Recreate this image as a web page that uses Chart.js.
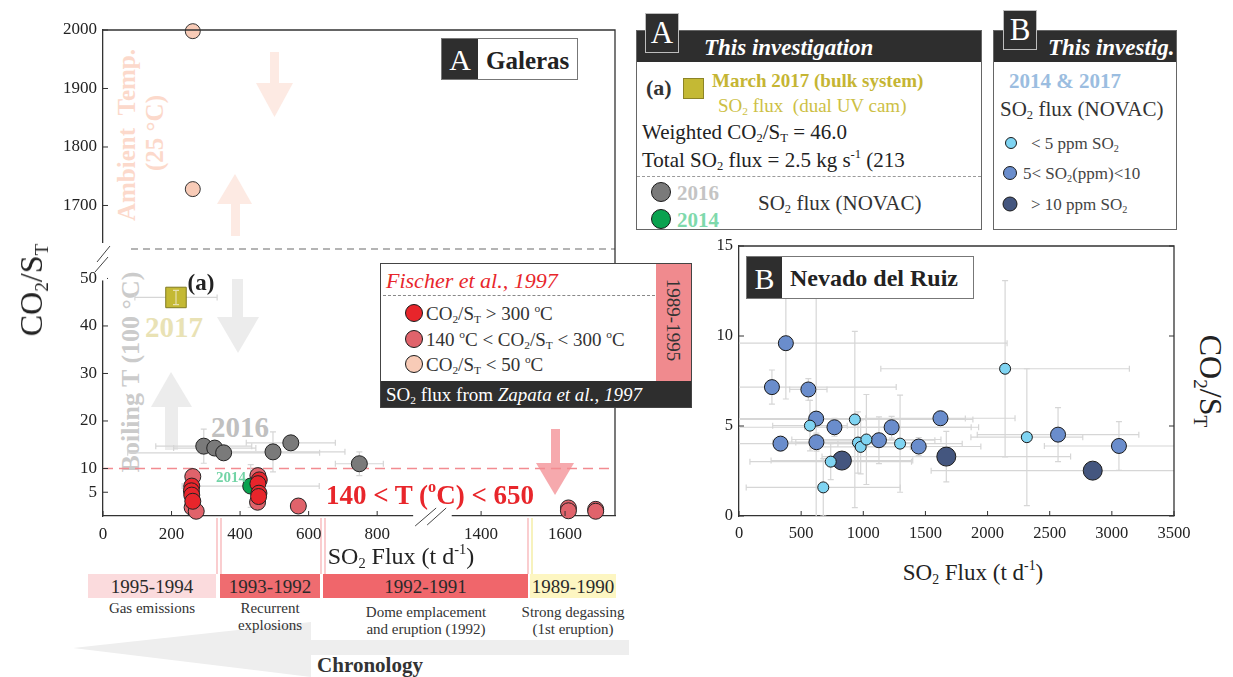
<!DOCTYPE html>
<html>
<head>
<meta charset="utf-8">
<script src="https://cdn.jsdelivr.net/npm/chart.js@4.4.1/dist/chart.umd.min.js"></script>
<style>
  body { margin: 0; background: #fff; }
  #page { position: relative; width: 1233px; height: 677px; overflow: hidden;
          font-family: 'Liberation Serif', 'Times New Roman', serif; color: #222; }
  canvas { position: absolute; }
  .t { position: absolute; white-space: nowrap; line-height: 1; transform: translateY(-50%); }
  .c { position: absolute; white-space: nowrap; line-height: 1; transform: translate(-50%, -50%); }
  .rl { position: absolute; white-space: nowrap; line-height: 1; transform: translate(-50%, -50%) rotate(-90deg); }
  .rr { position: absolute; white-space: nowrap; line-height: 1; transform: translate(-50%, -50%) rotate(90deg); }
  sub { font-size: 0.6em; vertical-align: -0.3em; line-height: 0; }
  sup { font-size: 0.6em; vertical-align: 0.7em; line-height: 0; }
  .dot { position: absolute; border-radius: 50%; border: 1px solid #1a1a1a; transform: translate(-50%, -50%); }
  .bar { position: absolute; top: 574px; height: 24px; line-height: 25px; text-align: center;
         font-size: 19px; color: #2a2a2a; }
  .cap { position: absolute; text-align: center; font-size: 15px; line-height: 17px;
         transform: translateX(-50%); white-space: nowrap; color: #333; }
  .box { position: absolute; background: #fff; border: 1px solid #555; }
  .tab { position: absolute; background: #2e2e2e; border: 1.5px solid #bdbdbd; color: #fff;
         font-size: 31px; text-align: center; line-height: 38px; }
</style>
</head>
<body>
<div id="page">

  <!-- faint background arrows and guides -->
  <svg style="position:absolute;left:0;top:0;z-index:0" width="1233" height="677">
    <g fill="#fdeae3">
      <rect x="270" y="52" width="9" height="32"/>
      <polygon points="256,83 293,83 274.5,117"/>
      <polygon points="235,174 217,204 252,204"/>
      <rect x="231" y="203" width="9" height="33"/>
    </g>
    <g fill="#ececec">
      <rect x="232" y="279" width="11" height="39"/>
      <polygon points="217,317 259,317 238,353"/>
      <polygon points="171,372 151,407 192,407"/>
      <rect x="165" y="406" width="13" height="44"/>
    </g>
    <g fill="#f6a9ad">
      <rect x="551" y="429" width="9" height="35"/>
      <polygon points="536,463 574,463 555,495"/>
    </g>
    <g stroke-width="1.3">
      <line x1="217" y1="518" x2="217" y2="574" stroke="#f7b3b6"/>
      <line x1="221" y1="518" x2="221" y2="574" stroke="#f7b3b6"/>
      <line x1="321" y1="518" x2="321" y2="574" stroke="#f7b3b6"/>
      <line x1="325" y1="518" x2="325" y2="574" stroke="#f7b3b6"/>
      <line x1="528" y1="518" x2="528" y2="574" stroke="#f7b3b6"/>
      <line x1="532" y1="518" x2="532" y2="574" stroke="#f3eb9a"/>
    </g>
    <polygon fill="#eeeeee" points="73,648 311,622 311,640 629,640 629,655 311,655 311,677"/>
  </svg>

  <div class="rl" style="left:126px;top:135px;font-size:25px;font-weight:bold;color:#fcd9cb">Ambient&nbsp;&nbsp;Temp.</div>
  <div class="rl" style="left:154px;top:133px;font-size:25px;font-weight:bold;color:#fcd9cb">(25 °C)</div>
  <div class="rl" style="left:131px;top:372px;font-size:26px;font-weight:bold;color:#cbcbcb">Boiling T (100 °C)</div>
  <div class="c" style="left:240px;top:427px;font-size:29px;font-weight:bold;color:#c0c0c0">2016</div>
  <div class="c" style="left:174px;top:327px;font-size:29px;font-weight:bold;color:#e9e2b5">2017</div>

  <canvas id="galeras" width="640" height="560" style="left:0;top:0;width:640px;height:560px;z-index:1"></canvas>
  <canvas id="ruiz" width="543" height="330" style="left:690px;top:230px;width:543px;height:330px;z-index:1"></canvas>

  <!-- Galeras panel labels -->
  <div class="c" style="left:201px;top:282px;font-size:23px;font-weight:bold;z-index:2">(a)</div>
  <div class="c" style="left:231px;top:477px;font-size:15px;font-weight:bold;color:#72d4a6;z-index:2">2014</div>
  <div class="c" style="left:430px;top:495px;font-size:27px;font-weight:bold;color:#e8262b;z-index:2">140 &lt; T (<sup>o</sup>C) &lt; 650</div>

  <div class="box" style="left:441px;top:38px;width:135px;height:40px;z-index:2;border-color:#777">
    <div style="position:absolute;left:0;top:0;width:36px;height:40px;background:#2e2e2e;color:#fff;font-size:30px;text-align:center;line-height:42px">A</div>
    <div class="t" style="left:44px;top:21px;font-size:25px;font-weight:bold">Galeras</div>
  </div>

  <div class="box" style="left:380px;top:263px;width:310px;height:143px;z-index:2;border-color:#444">
    <div class="t" style="left:5px;top:17px;font-size:22px;font-style:italic;color:#e8262b">Fischer et al., 1997</div>
    <div style="position:absolute;left:2px;top:31px;width:272px;border-top:1.3px dashed #888"></div>
    <div class="dot" style="left:33px;top:49px;width:16px;height:16px;background:#e8252b"></div>
    <div class="t" style="left:45px;top:49px;font-size:19px;color:#333">CO<sub>2</sub>/S<sub>T</sub> &gt; 300 <sup>o</sup>C</div>
    <div class="dot" style="left:33px;top:75px;width:16px;height:16px;background:#e0636b"></div>
    <div class="t" style="left:45px;top:75px;font-size:19px;color:#333">140 <sup>o</sup>C &lt; CO<sub>2</sub>/S<sub>T</sub> &lt; 300 <sup>o</sup>C</div>
    <div class="dot" style="left:33px;top:100px;width:16px;height:16px;background:#f8cbb7"></div>
    <div class="t" style="left:45px;top:100px;font-size:19px;color:#333">CO<sub>2</sub>/S<sub>T</sub> &lt; 50 <sup>o</sup>C</div>
    <div style="position:absolute;left:275px;top:0;width:35px;height:117px;background:#f08a8e">
      <div class="rr" style="left:17px;top:56px;font-size:19px;color:#333">1989-1995</div>
    </div>
    <div style="position:absolute;left:0;top:117px;width:310px;height:26px;background:#2e2e2e">
      <div class="t" style="left:5px;top:13px;font-size:19px;color:#fff">SO<sub>2</sub> flux from <i>Zapata et al., 1997</i></div>
    </div>
  </div>

  <div class="rl" style="left:31px;top:290px;font-size:32px;z-index:2">CO<sub>2</sub>/S<sub>T</sub></div>
  <div class="c" style="left:401px;top:556px;font-size:24px;z-index:2">SO<sub>2</sub> Flux (t d<sup>-1</sup>)</div>

  <!-- timeline -->
  <div class="bar" style="left:88px;width:128px;background:#fbdbdd">1995-1994</div>
  <div class="bar" style="left:220px;width:100px;background:#ef6c70">1993-1992</div>
  <div class="bar" style="left:323px;width:205px;background:#f0666b">1992-1991</div>
  <div class="bar" style="left:530px;width:86px;background:#fdf6c2">1989-1990</div>
  <div class="cap" style="left:152px;top:600px">Gas emissions</div>
  <div class="cap" style="left:270px;top:600px">Recurrent<br>explosions</div>
  <div class="cap" style="left:426px;top:604px">Dome emplacement<br>and eruption (1992)</div>
  <div class="cap" style="left:573px;top:604px">Strong degassing<br>(1st eruption)</div>
  <div class="c" style="left:370px;top:665px;font-size:21px;font-weight:bold;color:#333">Chronology</div>

  <!-- legend A -->
  <div class="box" style="left:636px;top:30px;width:344px;height:198px;border-color:#666">
    <div style="position:absolute;left:0;top:0;width:344px;height:31px;background:#2e2e2e"></div>
    <div class="t" style="left:67px;top:16px;font-size:23px;font-weight:bold;font-style:italic;color:#fff">This investigation</div>
    <div class="t" style="left:9px;top:57px;font-size:22px;font-weight:bold;color:#333">(a)</div>
    <div style="position:absolute;left:46px;top:47px;width:19px;height:19px;background:#c4b934;border:1px solid #8c8426"></div>
    <div class="t" style="left:75px;top:49px;font-size:19px;font-weight:bold;color:#c5b533">March 2017 (bulk system)</div>
    <div class="t" style="left:81px;top:74px;font-size:19px;color:#cdbf45">SO<sub>2</sub> flux&nbsp; (dual UV cam)</div>
    <div class="t" style="left:5px;top:101px;font-size:21px">Weighted CO<sub>2</sub>/S<sub>T</sub> = 46.0</div>
    <div class="t" style="left:5px;top:129px;font-size:21px">Total SO<sub>2</sub> flux = 2.5 kg s<sup>-1</sup> (213</div>
    <div style="position:absolute;left:0;top:145px;width:344px;border-top:1.3px dashed #9a9a9a"></div>
    <div class="dot" style="left:24px;top:161px;width:18px;height:18px;background:#7a7a7a"></div>
    <div class="t" style="left:40px;top:162px;font-size:21px;font-weight:bold;color:#c4c4c4">2016</div>
    <div class="dot" style="left:24px;top:188px;width:18px;height:18px;background:#0aa24f"></div>
    <div class="t" style="left:40px;top:189px;font-size:21px;font-weight:bold;color:#7fd9ac">2014</div>
    <div class="t" style="left:121px;top:172px;font-size:21px;color:#333">SO<sub>2</sub> flux (NOVAC)</div>
  </div>
  <div class="tab" style="left:645px;top:13px;width:32px;height:38px">A</div>

  <!-- legend B -->
  <div class="box" style="left:993px;top:30px;width:182px;height:198px;border-color:#666">
    <div style="position:absolute;left:0;top:0;width:182px;height:31px;background:#2e2e2e"></div>
    <div class="t" style="left:54px;top:16px;font-size:23px;font-weight:bold;font-style:italic;color:#fff">This investig.</div>
    <div class="t" style="left:15px;top:50px;font-size:21px;font-weight:bold;color:#9bbde0">2014 &amp; 2017</div>
    <div class="t" style="left:6px;top:78px;font-size:21px;color:#333">SO<sub>2</sub> flux (NOVAC)</div>
    <div class="dot" style="left:17px;top:112px;width:10px;height:10px;background:#7fd4f2"></div>
    <div class="t" style="left:37px;top:112px;font-size:17px;color:#444">&lt; 5 ppm SO<sub>2</sub></div>
    <div class="dot" style="left:16px;top:142px;width:12px;height:12px;background:#6a8dcc"></div>
    <div class="t" style="left:29px;top:142px;font-size:17px;color:#444">5&lt; SO<sub>2</sub>(ppm)&lt;10</div>
    <div class="dot" style="left:16px;top:173px;width:13px;height:13px;background:#44567f"></div>
    <div class="t" style="left:37px;top:173px;font-size:17px;color:#444">&gt; 10 ppm SO<sub>2</sub></div>
  </div>
  <div class="tab" style="left:1003px;top:10px;width:32px;height:38px">B</div>

  <!-- Nevado del Ruiz panel labels -->
  <div class="box" style="left:746px;top:256px;width:226px;height:41px;z-index:2;border-color:#777">
    <div style="position:absolute;left:0;top:0;width:35px;height:41px;background:#2e2e2e;color:#fff;font-size:30px;text-align:center;line-height:43px">B</div>
    <div class="t" style="left:43px;top:21px;font-size:24px;font-weight:bold">Nevado del Ruiz</div>
  </div>
  <div class="rr" style="left:1211px;top:381px;font-size:32px">CO<sub>2</sub>/S<sub>T</sub></div>
  <div class="c" style="left:973px;top:572px;font-size:23px">SO<sub>2</sub> Flux (t d<sup>-1</sup>)</div>
</div>

<script>
// ---- Galeras (panel A): SO2 flux (t/d) vs CO2/ST ----
var galerasPeach = [[262, 1998], [262, 1728]];                 // CO2/ST < 50 C (Fischer)
var galerasRed300 = [[259, 6.3], [258, 5.3], [259, 4.4], [262, 3.1],
                     [456, 7.6], [452, 6.8], [455, 4.8], [454, 4.1]];   // > 300 C
var galerasRed140 = [[262, 8.3], [260, 1.8], [272, 1.0], [452, 8.5], [451, 2.9], [570, 2.1]];
var galerasRed140Late = [[1608, 1.7], [1608, 1.1], [1673, 1.4], [1673, 1.0]];
var galeras2016 = [[294, 14.7], [326, 14.3], [352, 13.3], [496, 13.5], [548, 15.4], [748, 11.0]];
var galeras2016ErrX = [140, 120, 280, 210, 130, 70];
var galeras2016ErrY = [3.6, 0.5, 0.5, 4.2, 0.5, 2.5];
var galeras2014 = [[431, 6.3]];
var galeras2014ErrX = [200];
var galeras2014ErrY = [4.5];
var galeras2017 = [[213, 46.0]];
var galeras2017ErrX = [120];
var galeras2017ErrY = [1.5];

var galerasXTicksLow = [0, 200, 400, 600, 800];
var galerasXTicksHigh = [1400, 1600];
var galerasYTicksLow = [5, 10, 20, 30, 40, 50];
var galerasYTicksHigh = [1700, 1800, 1900, 2000];

// ---- Nevado del Ruiz (panel B) ----
var ruizLow = [[571, 5.02], [932, 5.36], [957, 4.08], [979, 3.84], [1025, 4.25],
               [1296, 4.02], [738, 3.02], [678, 1.59], [2141, 8.18], [2316, 4.38]];
var ruizLowErrX = [300, 950, 500, 400, 600, 500, 650, 620, 1000, 450];
var ruizLowErrY = [1.4, 4.9, 1.7, 1.5, 2.5, 2.7, 1.0, 1.6, 4.9, 3.8];
var ruizMid = [[265, 7.16], [377, 9.6], [558, 7.03], [334, 4.02], [621, 5.41], [623, 4.10],
               [768, 4.93], [1126, 4.21], [1228, 4.93], [1446, 3.86], [1621, 5.43],
               [2567, 4.52], [3057, 3.89]];
var ruizMidErrX = [1000, 1780, 150, 700, 1200, 350, 1100, 450, 700, 500, 600, 650, 600];
var ruizMidErrY = [0.95, 3.1, 0.6, 0.4, 7.1, 0.5, 0.5, 1.3, 0.6, 0.5, 0.4, 1.5, 1.35];
var ruizHigh = [[828, 3.08], [1668, 3.30], [2846, 2.52]];
var ruizHighErrX = [570, 1000, 1300];
var ruizHighErrY = [0.4, 1.4, 0.4];

var ruizXTicks = [0, 500, 1000, 1500, 2000, 2500, 3000, 3500];
var ruizYTicks = [0, 5, 10, 15];

var serif = "'Liberation Serif', 'Times New Roman', serif";

function pts(arr) {
    return arr.map(function(p) { return {x: p[0], y: p[1]}; });
}

function setTicks(list) {
    return function(scale) {
        scale.ticks = list.map(function(v) { return {value: v}; });
    };
}

// error bars, drawn through each dataset's own scales
function drawErrorBars(chart, onTop) {
    var ctx = chart.ctx, a = chart.chartArea;
    ctx.save();
    ctx.beginPath();
    ctx.rect(a.left, a.top, a.right - a.left, a.bottom - a.top);
    ctx.clip();
    chart.data.datasets.forEach(function(ds, i) {
        if (!ds.errX && !ds.errY) return;
        if (!!ds.errOnTop !== onTop) return;
        var meta = chart.getDatasetMeta(i);
        var xs = meta.xScale, ys = meta.yScale;
        ctx.strokeStyle = ds.errColor || '#d6d6d6';
        ctx.lineWidth = 1.2;
        ds.data.forEach(function(p, j) {
            var px = xs.getPixelForValue(p.x), py = ys.getPixelForValue(p.y);
            var ex = ds.errX ? ds.errX[j] : 0, ey = ds.errY ? ds.errY[j] : 0;
            ctx.beginPath();
            if (ex) {
                var l = xs.getPixelForValue(p.x - ex), r = xs.getPixelForValue(p.x + ex);
                ctx.moveTo(l, py); ctx.lineTo(r, py);
                ctx.moveTo(l, py - 3); ctx.lineTo(l, py + 3);
                ctx.moveTo(r, py - 3); ctx.lineTo(r, py + 3);
            }
            if (ey) {
                var t = ys.getPixelForValue(p.y + ey), b = ys.getPixelForValue(p.y - ey);
                ctx.moveTo(px, t); ctx.lineTo(px, b);
                ctx.moveTo(px - 3, t); ctx.lineTo(px + 3, t);
                ctx.moveTo(px - 3, b); ctx.lineTo(px + 3, b);
            }
            ctx.stroke();
        });
    });
    ctx.restore();
}

// top and right frame, plus short inward ticks
function drawFrame(chart, rightTicks) {
    var ctx = chart.ctx, a = chart.chartArea;
    ctx.save();
    ctx.strokeStyle = '#333';
    ctx.lineWidth = 1.3;
    ctx.beginPath();
    ctx.moveTo(a.left, a.top); ctx.lineTo(a.right, a.top); ctx.lineTo(a.right, a.bottom);
    ctx.stroke();
    ctx.lineWidth = 1;
    ctx.beginPath();
    Object.keys(chart.scales).forEach(function(id) {
        var s = chart.scales[id];
        s.ticks.forEach(function(t) {
            var p = s.getPixelForValue(t.value);
            if (s.isHorizontal()) {
                ctx.moveTo(p, a.bottom); ctx.lineTo(p, a.bottom - 5);
            } else {
                ctx.moveTo(a.left, p); ctx.lineTo(a.left + 5, p);
                if (rightTicks) { ctx.moveTo(a.right, p); ctx.lineTo(a.right - 5, p); }
            }
        });
    });
    ctx.stroke();
    ctx.restore();
}

function axisOpts(extra, fontSize, pad) {
    var o = {
        type: 'linear',
        grid: {display: false, drawTicks: false},
        border: {display: true, color: '#333', width: 1.3},
        ticks: {
            color: '#222',
            font: {family: serif, size: fontSize},
            padding: pad,
            autoSkip: false,
            maxRotation: 0,
            minRotation: 0,
            callback: function(v) { return String(v); }
        }
    };
    for (var k in extra) o[k] = extra[k];
    return o;
}

var galerasPlugin = {
    id: 'galerasDecor',
    beforeDatasetsDraw: function(chart) {
        var ctx = chart.ctx, a = chart.chartArea;
        var yBot = chart.scales.yBot, yTop = chart.scales.yTop;
        ctx.save();
        // boiling-point reference at CO2/ST = 10
        ctx.strokeStyle = '#f28b91';
        ctx.lineWidth = 1.4;
        ctx.setLineDash([10, 6]);
        var y10 = yBot.getPixelForValue(10);
        ctx.beginPath(); ctx.moveTo(a.left, y10); ctx.lineTo(a.right, y10); ctx.stroke();
        // break between the two y ranges
        ctx.strokeStyle = '#6a6a6a';
        ctx.lineWidth = 1.2;
        ctx.setLineDash([7, 5]);
        ctx.beginPath(); ctx.moveTo(a.left + 28, yTop.bottom); ctx.lineTo(a.right, yTop.bottom); ctx.stroke();
        ctx.restore();
        drawErrorBars(chart, false);
    },
    afterDatasetsDraw: function(chart) {
        drawErrorBars(chart, true);
    },
    afterDraw: function(chart) {
        var ctx = chart.ctx, a = chart.chartArea;
        var yBot = chart.scales.yBot, yTop = chart.scales.yTop;
        var x1 = chart.scales.x1, x2 = chart.scales.x2;
        drawFrame(chart, false);
        ctx.save();
        ctx.fillStyle = '#fff';
        var gy0 = yTop.bottom - 6, gy1 = yBot.getPixelForValue(50) + 2;
        ctx.fillRect(a.left - 3, gy0, 7, gy1 - gy0);
        var gx0 = x1.getPixelForValue(905), gx1 = x2.getPixelForValue(1330);
        ctx.fillRect(gx0, a.bottom - 3, gx1 - gx0, 7);
        ctx.strokeStyle = '#444';
        ctx.lineWidth = 1;
        ctx.beginPath();
        ctx.moveTo(a.left - 6, gy0 + 19); ctx.lineTo(a.left + 7, gy0 + 3);
        ctx.moveTo(a.left - 8, gy0 + 29); ctx.lineTo(a.left + 5, gy0 + 14);
        ctx.moveTo(gx0 + 2, a.bottom + 10); ctx.lineTo(gx0 + 23, a.bottom - 8);
        ctx.moveTo(gx0 + 14, a.bottom + 9); ctx.lineTo(gx0 + 33, a.bottom - 8);
        ctx.stroke();
        ctx.restore();
    }
};

new Chart(document.getElementById('galeras').getContext('2d'), {
    type: 'scatter',
    data: {
        datasets: [
            {label: '2017', data: pts(galeras2017), xAxisID: 'x1', yAxisID: 'yBot',
             pointStyle: 'rect', radius: 14.5, backgroundColor: '#c4b934', borderColor: '#807a20', borderWidth: 1,
             errX: galeras2017ErrX, errY: [0], clip: false},
            {label: '2017 err', data: pts(galeras2017), xAxisID: 'x1', yAxisID: 'yBot', radius: 0,
             errY: galeras2017ErrY, errOnTop: true, errColor: '#e6e0b0', clip: false},
            {label: '> 300', data: pts(galerasRed300), xAxisID: 'x1', yAxisID: 'yBot',
             radius: 8, backgroundColor: '#e8252b', borderColor: '#222', borderWidth: 1, clip: false},
            {label: '2014', data: pts(galeras2014), xAxisID: 'x1', yAxisID: 'yBot',
             radius: 8, backgroundColor: '#0aa24f', borderColor: '#222', borderWidth: 1,
             errX: galeras2014ErrX, errY: galeras2014ErrY, clip: false},
            {label: '140-300', data: pts(galerasRed140), xAxisID: 'x1', yAxisID: 'yBot',
             radius: 8, backgroundColor: '#e0636b', borderColor: '#222', borderWidth: 1, clip: false},
            {label: '140-300 late', data: pts(galerasRed140Late), xAxisID: 'x2', yAxisID: 'yBot',
             radius: 8, backgroundColor: '#e0636b', borderColor: '#222', borderWidth: 1, clip: false},
            {label: '2016', data: pts(galeras2016), xAxisID: 'x1', yAxisID: 'yBot',
             radius: 8, backgroundColor: '#7a7a7a', borderColor: '#222', borderWidth: 1,
             errX: galeras2016ErrX, errY: galeras2016ErrY, clip: false},
            {label: '< 50', data: pts(galerasPeach), xAxisID: 'x1', yAxisID: 'yTop',
             radius: 7.5, backgroundColor: '#f8cbb7', borderColor: '#333', borderWidth: 1, clip: false}
        ]
    },
    options: {
        responsive: false,
        animation: false,
        layout: {padding: {left: 0, right: 25, top: 30, bottom: 0}},
        plugins: {legend: {display: false}, tooltip: {enabled: false}},
        scales: {
            x1: axisOpts({position: 'bottom', stack: 'gx', stackWeight: 329, weight: 1, min: 0, max: 960,
                          afterBuildTicks: setTicks(galerasXTicksLow),
                          afterFit: function(s) { s.height = 44; }}, 17, 8),
            x2: axisOpts({position: 'bottom', stack: 'gx', stackWeight: 183, weight: 2, min: 1283, max: 1719,
                          afterBuildTicks: setTicks(galerasXTicksHigh),
                          afterFit: function(s) { s.height = 44; }}, 17, 8),
            yBot: axisOpts({position: 'left', stack: 'gy', stackWeight: 267, weight: 1, min: 0, max: 56.2,
                            afterBuildTicks: setTicks(galerasYTicksLow),
                            afterFit: function(s) { s.width = 103; }}, 17, 6),
            yTop: axisOpts({position: 'left', stack: 'gy', stackWeight: 219, weight: 2, min: 1625.6, max: 2000,
                            afterBuildTicks: setTicks(galerasYTicksHigh),
                            afterFit: function(s) { s.width = 103; }}, 17, 6)
        }
    },
    plugins: [galerasPlugin]
});

var ruizPlugin = {
    id: 'ruizDecor',
    beforeDatasetsDraw: function(chart) { drawErrorBars(chart, false); },
    afterDraw: function(chart) { drawFrame(chart, true); }
};

new Chart(document.getElementById('ruiz').getContext('2d'), {
    type: 'scatter',
    data: {
        datasets: [
            {label: '< 5 ppm SO2', data: pts(ruizLow), radius: 5.5,
             backgroundColor: '#7fd4f2', borderColor: '#1a1a1a', borderWidth: 1,
             errX: ruizLowErrX, errY: ruizLowErrY, clip: false},
            {label: '5-10 ppm SO2', data: pts(ruizMid), radius: 7.5,
             backgroundColor: '#6a8dcc', borderColor: '#1a1a1a', borderWidth: 1,
             errX: ruizMidErrX, errY: ruizMidErrY, clip: false},
            {label: '> 10 ppm SO2', data: pts(ruizHigh), radius: 9.5,
             backgroundColor: '#44567f', borderColor: '#1a1a1a', borderWidth: 1,
             errX: ruizHighErrX, errY: ruizHighErrY, clip: false}
        ]
    },
    options: {
        responsive: false,
        animation: false,
        layout: {padding: {left: 0, right: 59, top: 16, bottom: 0}},
        plugins: {legend: {display: false}, tooltip: {enabled: false}},
        scales: {
            x: axisOpts({position: 'bottom', min: 0, max: 3500,
                         afterBuildTicks: setTicks(ruizXTicks),
                         afterFit: function(s) { s.height = 44; }}, 16.5, 8),
            y: axisOpts({position: 'left', min: 0, max: 15,
                         afterBuildTicks: setTicks(ruizYTicks),
                         afterFit: function(s) { s.width = 49; }}, 16.5, 6)
        }
    },
    plugins: [ruizPlugin]
});
</script>
</body>
</html>
